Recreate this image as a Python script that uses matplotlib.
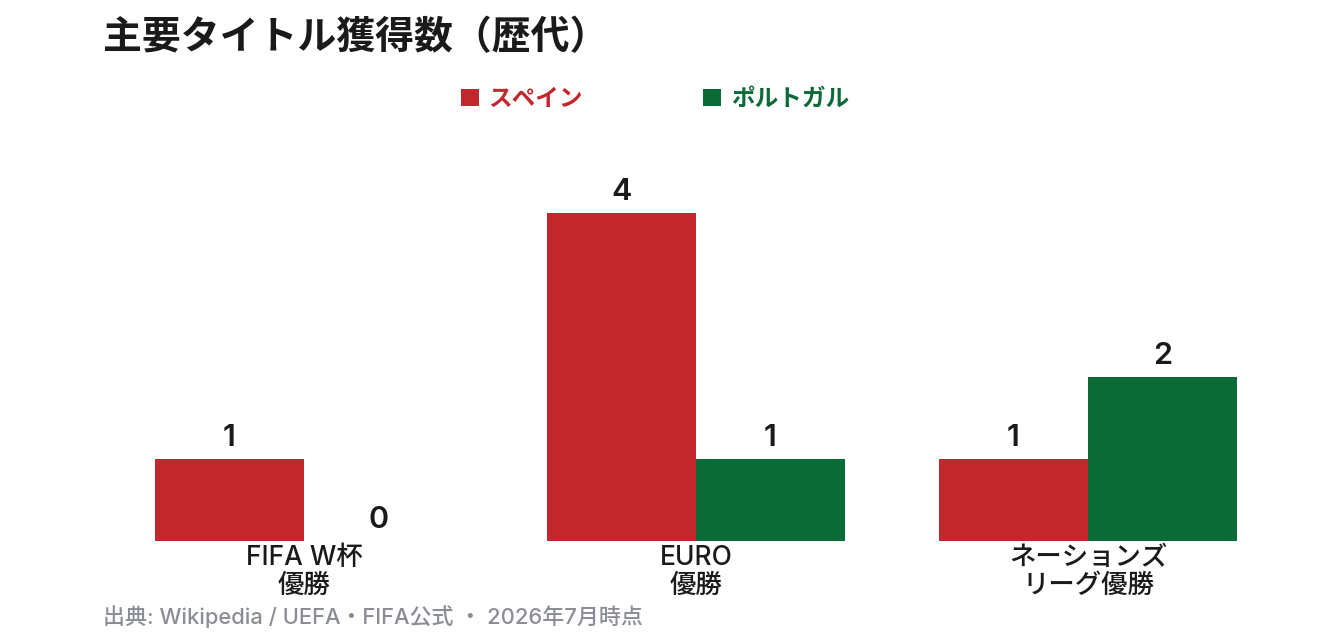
import matplotlib
matplotlib.use("Agg")
import matplotlib.pyplot as plt
import numpy as np

plt.rcParams['font.family'] = ['Inter', 'Noto Sans CJK JP', 'DejaVu Sans']

# Data
categories = ['FIFA W杯\n優勝', 'EURO\n優勝', 'ネーションズ\nリーグ優勝']
spain = [1, 4, 1]
portugal = [0, 1, 2]
series_names = ['スペイン', 'ポルトガル']

RED = '#C1272D'
GREEN = '#0B6B38'
W, H = 1344, 644

fig = plt.figure(figsize=(W / 100, H / 100), dpi=100)
# axes placed in pixel terms: baseline at y=541, plot top at y=140
ax = fig.add_axes([100 / W, (H - 541) / H, 1200 / W, (541 - 140) / H])

x = np.arange(len(categories))
bw = 0.38
b1 = ax.bar(x - bw / 2, spain, bw, color=RED, label=series_names[0])
b2 = ax.bar(x + bw / 2, portugal, bw, color=GREEN, label=series_names[1])

for bars, vals in [(b1, spain), (b2, portugal)]:
    for rect, v in zip(bars, vals):
        ax.annotate(str(v), (rect.get_x() + rect.get_width() / 2, v),
                    xytext=(0, 5), textcoords='offset points',
                    ha='center', va='bottom', fontsize=22, fontweight='semibold',
                    color='#1a1a1a')

ax.set_xlim((100 - 304) / 392, (1300 - 304) / 392)
ax.set_ylim(0, (541 - 140) / 82)
ax.set_xticks(x)
ax.set_xticklabels(categories, fontsize=19, fontweight='medium', color='#1a1a1a',
                   linespacing=1.1)
ax.tick_params(axis='x', length=0, pad=3)
ax.set_yticks([])
for s in ax.spines.values():
    s.set_visible(False)

fig.text(103 / W, 1 - 38 / H, '主要タイトル獲得数（歴代）', fontsize=28,
         fontweight='bold', color='#1a1a1a', va='center', ha='left')

leg = fig.legend(handles=[b1, b2], loc='center', bbox_to_anchor=(655 / W, 1 - 100 / H),
                 ncol=2, frameon=False, handlelength=0.75,
                 handleheight=0.75, handletextpad=0.4, columnspacing=5.1,
                 prop={'weight': 'bold', 'size': 17})
for t, c in zip(leg.get_texts(), [RED, GREEN]):
    t.set_color(c)

fig.text(103 / W, 1 - 617 / H, '出典: Wikipedia / UEFA・FIFA公式 ・ 2026年7月時点',
         fontsize=15.8, fontweight='medium', color='#8a8d94', va='center', ha='left')

fig.savefig('out.png', dpi=100)
